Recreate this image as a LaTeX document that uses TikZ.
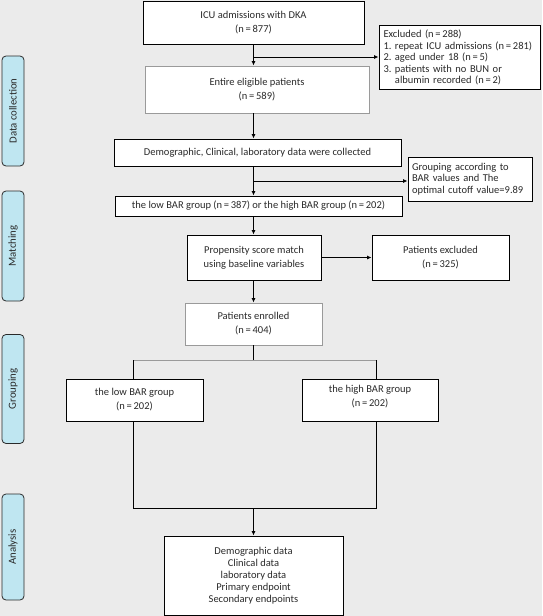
\documentclass[tikz,border=0pt]{standalone}
\usepackage{fontspec}
\setmainfont{Carlito}
\usetikzlibrary{arrows.meta}
\definecolor{bgc}{HTML}{EBEBEB}
\definecolor{txt}{HTML}{2A2A2A}
\definecolor{sidefill}{HTML}{BFE6F1}
\definecolor{gline}{HTML}{9A9A9A}
\begin{document}
\frenchspacing
\begin{tikzpicture}[x=1pt,y=-1pt,
  every node/.style={font=\fontsize{10.5}{14}\selectfont, text=txt},
  box/.style={draw=black, fill=white, line width=0.9pt, inner sep=0pt, align=center},
  graybox/.style={box, draw=gline},
  listbox/.style={box, align=left, font=\fontsize{10.5}{11.6}\selectfont\frenchspacing},
  side/.style={draw=txt, fill=sidefill, line width=0.8pt, rounded corners=4pt, rotate=90,
     minimum height=22pt, inner sep=0pt, font=\fontsize{10.8}{12}\selectfont},
  arr/.style={draw=black, line width=0.9pt, -{Latex[length=4.5pt,width=4pt]}},
  conn/.style={draw=black, line width=0.9pt},
  gconn/.style={draw=gline, line width=0.9pt}
]
\useasboundingbox (0,0) rectangle (542,616);
\fill[bgc] (0,0) rectangle (542,616);

% side labels
\node[side, minimum width=110pt] (s1) at (13,111) {Data collection};
\node[side, minimum width=110pt] (s2) at (13,246) {Matching};
\node[side, minimum width=109pt] (s3) at (13,389) {Grouping};
\node[side, minimum width=106pt] (s4) at (13,547) {Analysis};

% boxes
\node[box, minimum width=221pt, minimum height=43pt] (icu) at (253.5,22.5)
  {ICU admissions with DKA\\(n\,=\,877)};
\node[listbox, minimum width=161pt, minimum height=64pt, text width=152pt] (excl) at (459.5,57.5)
  {Excluded (n\,=\,288)\\1. repeat ICU admissions (n\,=\,281)\\2. aged under 18 (n\,=\,5)\\3. patients with no BUN or\\\hphantom{3.\ }albumin recorded (n\,=\,2)};
\node[graybox, minimum width=224pt, minimum height=47pt] (ent) at (257,89.5)
  {Entire eligible patients\\(n\,=\,589)};
\node[box, minimum width=287pt, minimum height=27pt] (demo) at (257.5,152.5)
  {Demographic, Clinical, laboratory data were collected};
\node[listbox, minimum width=124pt, minimum height=44pt, text width=116pt] (grp) at (470,179)
  {Grouping according to\\BAR values and The\\optimal cutoff value=9.89};
\node[box, minimum width=287pt, minimum height=20pt] (lh) at (258.5,206)
  {the low BAR group (n\,=\,387) or the high BAR group (n\,=\,202)};
\node[box, minimum width=134pt, minimum height=45pt] (prop) at (254,257.5)
  {Propensity score match\\using baseline variables};
\node[box, minimum width=137pt, minimum height=45pt] (pex) at (440.5,257.5)
  {Patients excluded\\(n\,=\,325)};
\node[graybox, minimum width=137pt, minimum height=42pt] (enr) at (253.5,324)
  {Patients enrolled\\(n\,=\,404)};
\node[box, minimum width=137pt, minimum height=42pt] (low) at (134.5,400)
  {the low BAR group\\(n\,=\,202)};
\node[box, minimum width=136pt, minimum height=42pt, text depth=8pt] (high) at (370,400)
  {the high BAR group\\(n\,=\,202)};
\node[box, minimum width=179pt, minimum height=79pt, font=\fontsize{10.5}{12}\selectfont] (fin) at (253.5,575.5)
  {Demographic data\\Clinical data\\laboratory data\\Primary endpoint\\Secondary endpoints};

% helper coordinates
\coordinate (b1) at (253.5,57);
\coordinate (b2) at (253.5,181);
\coordinate (sl) at (133,360);
\coordinate (sr) at (376,360);
\coordinate (ml) at (133,508);
\coordinate (mr) at (376,508);

% connectors
\draw[arr] (icu.south) -- (icu.south |- ent.north);
\draw[arr] (b1) -- (b1 -| excl.west);
\draw[arr] (icu.south |- ent.south) -- (icu.south |- demo.north);
\draw[arr] (icu.south |- demo.south) -- (icu.south |- lh.north);
\draw[arr] (b2) -- (b2 -| grp.west);
\draw[arr] (icu.south |- lh.south) -- (icu.south |- prop.north);
\draw[arr] (prop.east) -- (pex.west);
\draw[arr] (icu.south |- prop.south) -- (icu.south |- enr.north);
\draw[conn] (enr.south) -- (enr.south |- sl);
\draw[gconn] (sl) -- (sr);
\draw[conn] (sl) -- (sl |- low.north);
\draw[conn] (sr) -- (sr |- high.north);
\draw[conn] (sl |- low.south) -- (ml) -- (mr) -- (sr |- high.south);
\draw[arr] (icu.south |- ml) -- (icu.south |- fin.north);
\end{tikzpicture}
\end{document}
